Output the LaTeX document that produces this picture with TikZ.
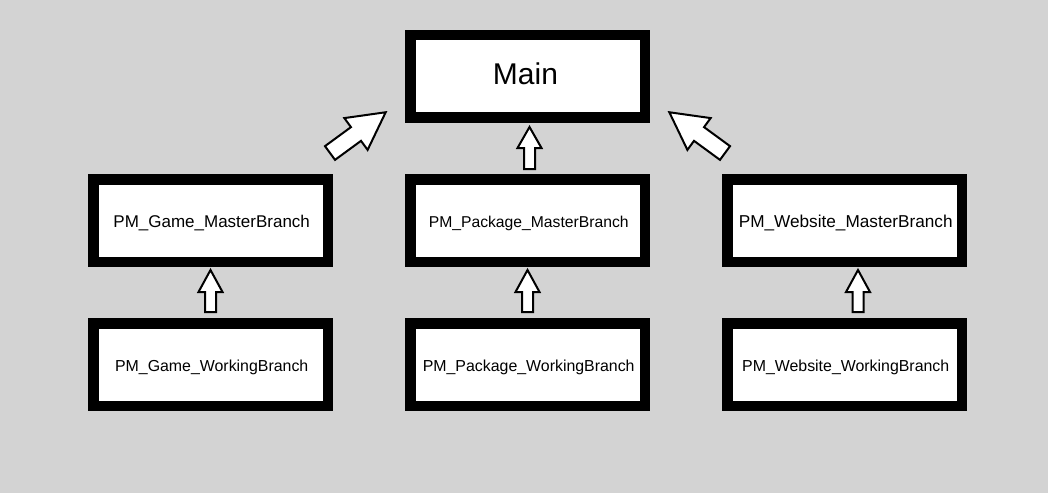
\documentclass[tikz,border=0pt]{standalone}
\usepackage{fontspec}
\setmainfont{Liberation Sans}
\definecolor{bg}{RGB}{211,211,211}
\tikzset{
  box/.style={draw=black, fill=white, line width=10.5pt, minimum width=234.5pt, minimum height=82.5pt, inner sep=0pt},
  txt/.style={font=\fontsize{#1}{#1}\selectfont, inner sep=0pt, yshift=-2.5pt, xshift=1.2pt},
  fatarrow/.style={draw=black, fill=white, line width=2pt, line join=miter}
}
% \blockarr{tail}{angle}{length}{shaft half}{head half}{head length}
\newcommand{\blockarr}[6]{%
  \begin{scope}[shift={#1}, rotate=#2]
    \draw[fatarrow] (0,-#4) -- ({#3-#6},-#4) -- ({#3-#6},-#5) -- (#3,0) -- ({#3-#6},#5) -- ({#3-#6},#4) -- (0,#4) -- cycle;
  \end{scope}}
\begin{document}
\begin{tikzpicture}[x=1pt, y=-1pt]
  \fill[bg] (0,0) rectangle (1048,493);
  \useasboundingbox (0,0) rectangle (1048,493);
  \node[box, label={[font=\fontsize{30}{30}\selectfont, inner sep=0pt, yshift=2.5pt, xshift=-2pt]center:Main}] (main) at (527.5,76.3) {};
  \node[box, label={[txt=17]center:PM\_Game\_MasterBranch}] (gm) at (210.5,220.5) {};
  \node[box, label={[txt=15.7]center:PM\_Package\_MasterBranch}] (pm) at (527.5,220.5) {};
  \node[box, label={[txt=17.2]center:PM\_Website\_MasterBranch}] (wm) at (844.5,220.5) {};
  \node[box, label={[txt=15.9]center:PM\_Game\_WorkingBranch}] (gw) at (210.5,364.5) {};
  \node[box, label={[txt=15.9]center:PM\_Package\_WorkingBranch}] (pw) at (527.5,364.5) {};
  \node[box, label={[txt=15.9]center:PM\_Website\_WorkingBranch}] (ww) at (844.5,364.5) {};
  % vertical arrows
  \blockarr{(210.5,312)}{90}{42}{5.5}{12}{22}
  \blockarr{(527.5,312)}{90}{42}{5.5}{12}{22}
  \blockarr{(858,312)}{90}{42}{5.5}{12}{22}
  \blockarr{(529.5,169)}{90}{42}{5.5}{12}{21}
  % diagonal arrows
  \blockarr{(330,153)}{36.2}{69}{8.5}{19.7}{36.8}
  \blockarr{(725,153)}{143.8}{69}{8.5}{19.7}{36.8}
\end{tikzpicture}
\end{document}
